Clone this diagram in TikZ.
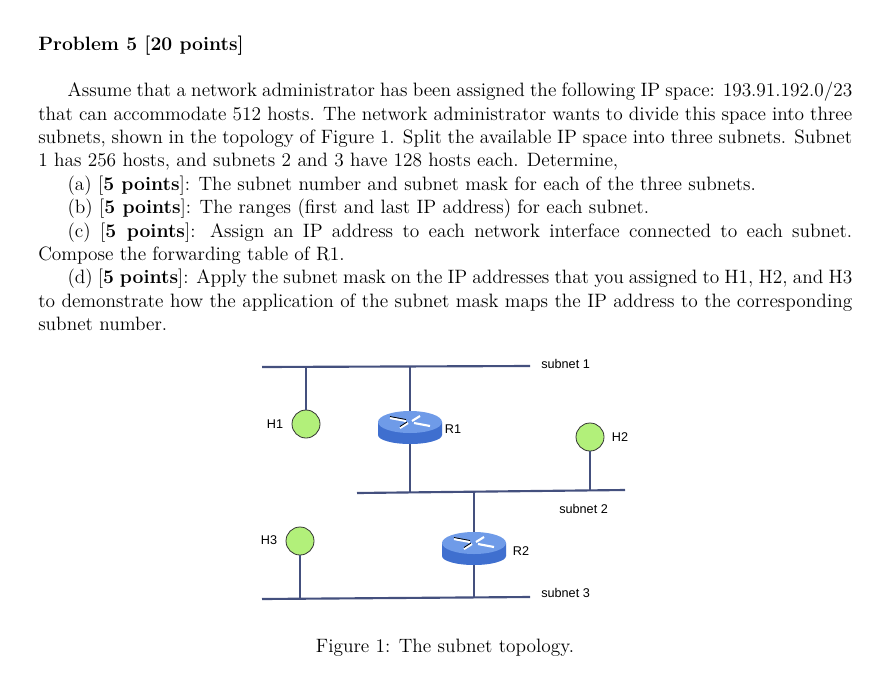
\documentclass[tikz,border=0pt]{standalone}
\usepackage{fontspec}
\setsansfont{Liberation Sans}
\definecolor{netline}{HTML}{44507E}
\definecolor{hostg}{HTML}{B2F07A}
\definecolor{rtop}{HTML}{6F9BE8}
\definecolor{rside}{HTML}{3F6FCF}
\tikzset{
  net/.style={netline, line width=1.6pt},
  host/.style={circle, draw=black!80, line width=0.6pt, fill=hostg, minimum size=21pt, inner sep=0pt},
  lbl/.style={font=\sffamily\fontsize{9.5}{11}\selectfont, inner sep=0pt},
  rtr/.style={minimum width=48pt, minimum height=22pt, inner sep=0pt},
  every node/.append style={text=black}
}
\newcommand{\routericon}[1]{%
  \begin{scope}[shift={(#1)}]
    \fill[rside!80!black] (-32,-5) -- (-32,8) arc[start angle=180,end angle=360,x radius=32,y radius=10] -- (32,-5) -- cycle;
    \fill[rside] (-32,-5) rectangle (32,8);
    \fill[rside] (0,8) ellipse[x radius=32, y radius=9];
    \fill[rtop] (0,-5) ellipse[x radius=32, y radius=11];
    \draw[white, line width=1.6pt] (-20,-9) -- (-4,-6) (20,-1) -- (4,-4) (-10,1) -- (-2,-4) (10,-11) -- (2,-6);
    \draw[black, line width=0.6pt] (-20,-10.5) -- (-4,-7.5) (-10,-0.5) -- (-3,-5);
  \end{scope}}
\begin{document}
\begin{tikzpicture}[x=0.75pt,y=-0.75pt]
\useasboundingbox (0,0) rectangle (885,686);
\node[anchor=base west, inner sep=0pt, font=\fontsize{14.5}{17.55}\selectfont\bfseries] (title) at (38,50) {Problem 5 [20 points]};
\node[anchor=north west, inner sep=0pt, font=\fontsize{14.5}{17.55}\selectfont] (body) at (38,82) {\parbox[t]{610.5pt}{\hyphenpenalty=10000 \tolerance=10000 \parindent=22pt
Assume that a network administrator has been assigned the following IP space: 193.91.192.0/23\linebreak that can accommodate 512 hosts. The network administrator wants to divide this space into three\linebreak subnets, shown in the topology of Figure 1. Split the available IP space into three subnets. Subnet\linebreak 1 has 256 hosts, and subnets 2 and 3 have 128 hosts each. Determine,\par
(a) [\textbf{5 points}]: The subnet number and subnet mask for each of the three subnets.\par
(b) [\textbf{5 points}]: The ranges (first and last IP address) for each subnet.\par
(c) [\textbf{5 points}]: Assign an IP address to each network interface connected to each subnet.\linebreak Compose the forwarding table of R1.\par
(d) [\textbf{5 points}]: Apply the subnet mask on the IP addresses that you assigned to H1, H2, and H3\linebreak to demonstrate how the application of the subnet mask maps the IP address to the corresponding\linebreak subnet number.\par}};
% networks
\coordinate (s1a) at (262,367); \coordinate (s1b) at (530,366);
\coordinate (s2a) at (357,493); \coordinate (s2b) at (625,490);
\coordinate (s3a) at (262,599); \coordinate (s3b) at (530,597);
\draw[net] (s1a) -- (s1b);
\draw[net] (s2a) -- (s2b);
\draw[net] (s3a) -- (s3b);
\node[lbl, anchor=west] (l1) at (541,364) {subnet 1};
\node[lbl, anchor=west] (l2) at (559,509) {subnet 2};
\node[lbl, anchor=west] (l3) at (541,593) {subnet 3};
% hosts
\node[host] (h1) at (306,424) {};
\node[host] (h2) at (590,437) {};
\node[host] (h3) at (300,541) {};
\node[lbl] (h1l) at (275,424) {H1};
\node[lbl] (h2l) at (620,437) {H2};
\node[lbl] (h3l) at (269,540) {H3};
\draw[net] (306,366) -- (h1.north);
\draw[net] (h2.south) -- (590,491);
\draw[net] (h3.south) -- (300,598);
% routers
\draw[net] (410,366) -- (410,415);
\draw[net] (410,440) -- (410,492);
\draw[net] (474,493) -- (474,537);
\draw[net] (474,560) -- (474,598);
\routericon{410,427}
\routericon{474,548}
\node[rtr] (r1) at (410,427) {};
\node[rtr] (r2) at (474,548) {};
\node[lbl] (r1l) at (453,429) {R1};
\node[lbl] (r2l) at (521,551) {R2};
\node[font=\fontsize{14.5}{17.55}\selectfont, inner sep=0pt] (cap) at (445,648) {Figure 1: The subnet topology.};
\end{tikzpicture}
\end{document}
